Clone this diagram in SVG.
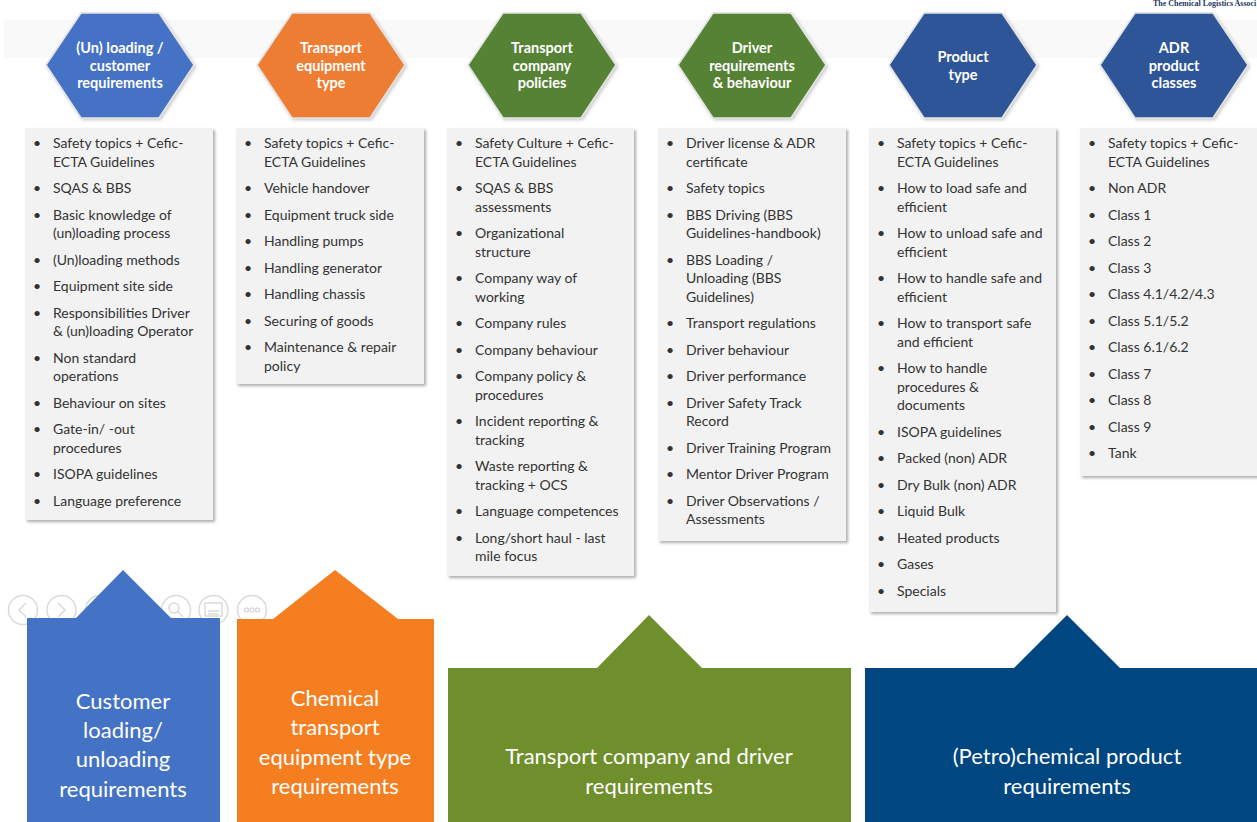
<svg xmlns="http://www.w3.org/2000/svg" width="1257" height="822" viewBox="0 0 1257 822">
<style>
.li{font-family:Lato,"Open Sans",sans-serif;font-size:14px;fill:#333}
.hx{font-family:Lato,"Open Sans",sans-serif;font-size:14.5px;font-weight:bold;fill:#fff;text-anchor:middle}
.bt{font-family:Lato,"Open Sans",sans-serif;font-size:22px;fill:#fff;text-anchor:middle}
.box{fill:#F2F2F2;filter:url(#sh)}
.hex{stroke:#E4E4E4;stroke-width:1.5;filter:url(#hs)}
.ic{fill:none;stroke:#DADADA;stroke-width:1.5}
</style>
<defs>
<filter id="sh" x="-10%" y="-10%" width="125%" height="125%"><feDropShadow dx="2" dy="2" stdDeviation="1.5" flood-color="#777" flood-opacity="0.6"/></filter>
<filter id="hs" x="-10%" y="-10%" width="125%" height="125%"><feDropShadow dx="1.5" dy="1.5" stdDeviation="1.5" flood-color="#999" flood-opacity="0.5"/></filter>
</defs>
<rect width="1257" height="822" fill="#fff"/>
<rect x="4" y="20" width="1253" height="38" fill="#F9F9F9"/>
<text x="1153" y="6" font-family="Liberation Serif,serif" font-size="8" font-weight="bold" fill="#1F3864">The Chemical Logistics Associ</text>

<g id="slide-controls">
<circle class="ic" cx="23" cy="610" r="14.5"/><path class="ic" d="M26,603 L19,610 L26,617"/>
<circle class="ic" cx="61.5" cy="610" r="14.5"/><path class="ic" d="M58,603 L65,610 L58,617"/>
<circle class="ic" cx="100" cy="610" r="14.5"/>
<circle class="ic" cx="176" cy="610" r="14.5"/><circle class="ic" cx="174" cy="608" r="5"/><path class="ic" d="M178,612 L183,617"/>
<circle class="ic" cx="213.5" cy="610" r="14.5"/><rect class="ic" x="205" y="603" width="17" height="13"/><path class="ic" d="M208,611 H219 M208,614 H219"/>
<circle class="ic" cx="252" cy="610" r="14.5"/><circle class="ic" cx="246.5" cy="610" r="2"/><circle class="ic" cx="252" cy="610" r="2"/><circle class="ic" cx="257.5" cy="610" r="2"/>
</g>

<g id="connectors"/>

<g id="hex1"><polygon class="hex" fill="#4472C4" points="46,65 81,13 159,13 194,65 159,118 81,118"/>
<text class="hx" x="120" y="53">(Un) loading /</text><text class="hx" x="120" y="71">customer</text><text class="hx" x="120" y="88">requirements</text></g>
<g id="hex2"><polygon class="hex" fill="#ED7D31" points="257,65 292,13 370,13 405,65 370,118 292,118"/>
<text class="hx" x="331" y="53">Transport</text><text class="hx" x="331" y="71">equipment</text><text class="hx" x="331" y="88">type</text></g>
<g id="hex3"><polygon class="hex" fill="#548235" points="468,65 503,13 581,13 616,65 581,118 503,118"/>
<text class="hx" x="542" y="53">Transport</text><text class="hx" x="542" y="71">company</text><text class="hx" x="542" y="88">policies</text></g>
<g id="hex4"><polygon class="hex" fill="#548235" points="678,65 713,13 791,13 826,65 791,118 713,118"/>
<text class="hx" x="752" y="53">Driver</text><text class="hx" x="752" y="71">requirements</text><text class="hx" x="752" y="88">&amp; behaviour</text></g>
<g id="hex5"><polygon class="hex" fill="#2F5597" points="889,65 924,13 1002,13 1037,65 1002,118 924,118"/>
<text class="hx" x="963" y="62">Product</text><text class="hx" x="963" y="80">type</text></g>
<g id="hex6"><polygon class="hex" fill="#2F5597" points="1100,65 1135,13 1213,13 1248,65 1213,118 1135,118"/>
<text class="hx" x="1174" y="53">ADR</text><text class="hx" x="1174" y="71">product</text><text class="hx" x="1174" y="88">classes</text></g>

<g id="list1"><rect class="box" x="25" y="128" width="188" height="392"/>
<g class="li">
<text x="33" y="148">•</text><text x="53" y="148">Safety topics + Cefic-</text><text x="53" y="166.5">ECTA Guidelines</text>
<text x="33" y="193">•</text><text x="53" y="193">SQAS &amp; BBS</text>
<text x="33" y="219.5">•</text><text x="53" y="219.5">Basic knowledge of</text><text x="53" y="238">(un)loading process</text>
<text x="33" y="264.5">•</text><text x="53" y="264.5">(Un)loading methods</text>
<text x="33" y="291">•</text><text x="53" y="291">Equipment site side</text>
<text x="33" y="317.5">•</text><text x="53" y="317.5">Responsibilities Driver</text><text x="53" y="336">&amp; (un)loading Operator</text>
<text x="33" y="362.5">•</text><text x="53" y="362.5">Non standard</text><text x="53" y="381">operations</text>
<text x="33" y="407.5">•</text><text x="53" y="407.5">Behaviour on sites</text>
<text x="33" y="434">•</text><text x="53" y="434">Gate-in/ -out</text><text x="53" y="452.5">procedures</text>
<text x="33" y="479">•</text><text x="53" y="479">ISOPA guidelines</text>
<text x="33" y="505.5">•</text><text x="53" y="505.5">Language preference</text>
</g></g>

<g id="list2"><rect class="box" x="236" y="128" width="188" height="256"/>
<g class="li">
<text x="244" y="148">•</text><text x="264" y="148">Safety topics + Cefic-</text><text x="264" y="166.5">ECTA Guidelines</text>
<text x="244" y="193">•</text><text x="264" y="193">Vehicle handover</text>
<text x="244" y="219.5">•</text><text x="264" y="219.5">Equipment truck side</text>
<text x="244" y="246">•</text><text x="264" y="246">Handling pumps</text>
<text x="244" y="272.5">•</text><text x="264" y="272.5">Handling generator</text>
<text x="244" y="299">•</text><text x="264" y="299">Handling chassis</text>
<text x="244" y="325.5">•</text><text x="264" y="325.5">Securing of goods</text>
<text x="244" y="352">•</text><text x="264" y="352">Maintenance &amp; repair</text><text x="264" y="370.5">policy</text>
</g></g>

<g id="list3"><rect class="box" x="447" y="128" width="187" height="448"/>
<g class="li">
<text x="455" y="148">•</text><text x="475" y="148">Safety Culture + Cefic-</text><text x="475" y="166.5">ECTA Guidelines</text>
<text x="455" y="193">•</text><text x="475" y="193">SQAS &amp; BBS</text><text x="475" y="211.5">assessments</text>
<text x="455" y="238">•</text><text x="475" y="238">Organizational</text><text x="475" y="256.5">structure</text>
<text x="455" y="283">•</text><text x="475" y="283">Company way of</text><text x="475" y="301.5">working</text>
<text x="455" y="328">•</text><text x="475" y="328">Company rules</text>
<text x="455" y="354.5">•</text><text x="475" y="354.5">Company behaviour</text>
<text x="455" y="381">•</text><text x="475" y="381">Company policy &amp;</text><text x="475" y="399.5">procedures</text>
<text x="455" y="426">•</text><text x="475" y="426">Incident reporting &amp;</text><text x="475" y="444.5">tracking</text>
<text x="455" y="471">•</text><text x="475" y="471">Waste reporting &amp;</text><text x="475" y="489.5">tracking + OCS</text>
<text x="455" y="516">•</text><text x="475" y="516">Language competences</text>
<text x="455" y="542.5">•</text><text x="475" y="542.5">Long/short haul - last</text><text x="475" y="561">mile focus</text>
</g></g>

<g id="list4"><rect class="box" x="658" y="128" width="188" height="413"/>
<g class="li">
<text x="666" y="148">•</text><text x="686" y="148">Driver license &amp; ADR</text><text x="686" y="166.5">certificate</text>
<text x="666" y="193">•</text><text x="686" y="193">Safety topics</text>
<text x="666" y="219.5">•</text><text x="686" y="219.5">BBS Driving (BBS</text><text x="686" y="238">Guidelines-handbook)</text>
<text x="666" y="264.5">•</text><text x="686" y="264.5">BBS Loading /</text><text x="686" y="283">Unloading (BBS</text><text x="686" y="301.5">Guidelines)</text>
<text x="666" y="328">•</text><text x="686" y="328">Transport regulations</text>
<text x="666" y="354.5">•</text><text x="686" y="354.5">Driver behaviour</text>
<text x="666" y="381">•</text><text x="686" y="381">Driver performance</text>
<text x="666" y="407.5">•</text><text x="686" y="407.5">Driver Safety Track</text><text x="686" y="426">Record</text>
<text x="666" y="452.5">•</text><text x="686" y="452.5">Driver Training Program</text>
<text x="666" y="479">•</text><text x="686" y="479">Mentor Driver Program</text>
<text x="666" y="505.5">•</text><text x="686" y="505.5">Driver Observations /</text><text x="686" y="524">Assessments</text>
</g></g>

<g id="list5"><rect class="box" x="869" y="128" width="187" height="484"/>
<g class="li">
<text x="877" y="148">•</text><text x="897" y="148">Safety topics + Cefic-</text><text x="897" y="166.5">ECTA Guidelines</text>
<text x="877" y="193">•</text><text x="897" y="193">How to load safe and</text><text x="897" y="211.5">efficient</text>
<text x="877" y="238">•</text><text x="897" y="238">How to unload safe and</text><text x="897" y="256.5">efficient</text>
<text x="877" y="283">•</text><text x="897" y="283">How to handle safe and</text><text x="897" y="301.5">efficient</text>
<text x="877" y="328">•</text><text x="897" y="328">How to transport safe</text><text x="897" y="346.5">and efficient</text>
<text x="877" y="373">•</text><text x="897" y="373">How to handle</text><text x="897" y="391.5">procedures &amp;</text><text x="897" y="410">documents</text>
<text x="877" y="436.5">•</text><text x="897" y="436.5">ISOPA guidelines</text>
<text x="877" y="463">•</text><text x="897" y="463">Packed (non) ADR</text>
<text x="877" y="489.5">•</text><text x="897" y="489.5">Dry Bulk (non) ADR</text>
<text x="877" y="516">•</text><text x="897" y="516">Liquid Bulk</text>
<text x="877" y="542.5">•</text><text x="897" y="542.5">Heated products</text>
<text x="877" y="569">•</text><text x="897" y="569">Gases</text>
<text x="877" y="595.5">•</text><text x="897" y="595.5">Specials</text>
</g></g>

<g id="list6"><rect class="box" x="1080" y="128" width="190" height="348"/>
<g class="li">
<text x="1088" y="148">•</text><text x="1108" y="148">Safety topics + Cefic-</text><text x="1108" y="166.5">ECTA Guidelines</text>
<text x="1088" y="193">•</text><text x="1108" y="193">Non ADR</text>
<text x="1088" y="219.5">•</text><text x="1108" y="219.5">Class 1</text>
<text x="1088" y="246">•</text><text x="1108" y="246">Class 2</text>
<text x="1088" y="272.5">•</text><text x="1108" y="272.5">Class 3</text>
<text x="1088" y="299">•</text><text x="1108" y="299">Class 4.1/4.2/4.3</text>
<text x="1088" y="325.5">•</text><text x="1108" y="325.5">Class 5.1/5.2</text>
<text x="1088" y="352">•</text><text x="1108" y="352">Class 6.1/6.2</text>
<text x="1088" y="378.5">•</text><text x="1108" y="378.5">Class 7</text>
<text x="1088" y="405">•</text><text x="1108" y="405">Class 8</text>
<text x="1088" y="431.5">•</text><text x="1108" y="431.5">Class 9</text>
<text x="1088" y="458">•</text><text x="1108" y="458">Tank</text>
</g></g>

<g id="req-customer"><polygon fill="#4472C4" points="27,618 76,618 123,570 171,618 220,618 220,822 27,822"/>
<text class="bt" x="123" y="709">Customer</text><text class="bt" x="123" y="738">loading/</text><text class="bt" x="123" y="767">unloading</text><text class="bt" x="123" y="797">requirements</text></g>
<g id="req-equipment"><polygon fill="#F47E20" points="237,619 273,619 335,570 398,619 434,619 434,822 237,822"/>
<text class="bt" x="335" y="706">Chemical</text><text class="bt" x="335" y="735">transport</text><text class="bt" x="335" y="765">equipment type</text><text class="bt" x="335" y="794">requirements</text></g>
<g id="req-company"><polygon fill="#6F8F2C" points="448,668 597,668 649,615 702,668 851,668 851,822 448,822"/>
<text class="bt" x="649" y="764">Transport company and driver</text><text class="bt" x="649" y="794">requirements</text></g>
<g id="req-product"><polygon fill="#004680" points="865,668 1014,668 1067,615 1120,668 1257,668 1257,822 865,822"/>
<text class="bt" x="1067" y="764">(Petro)chemical product</text><text class="bt" x="1067" y="794">requirements</text></g>
</svg>
